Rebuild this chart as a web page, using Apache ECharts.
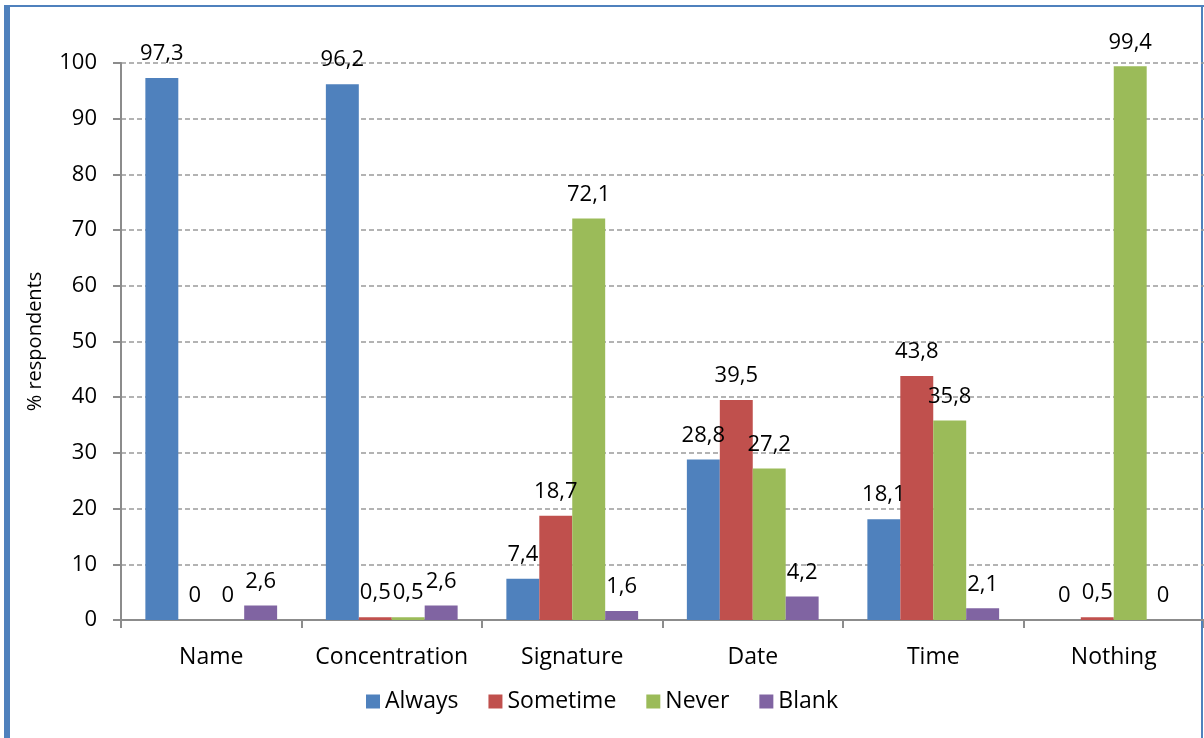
<!DOCTYPE html>
<html>
<head>
<meta charset="utf-8">
<script src="https://cdn.jsdelivr.net/npm/echarts@6/dist/echarts.min.js"></script>
<style>
  html, body { margin: 0; padding: 0; background: #fff; }
  #chart { width: 1204px; height: 738px; }
</style>
</head>
<body>
<div id="chart"></div>
<script>
const categories = ["Name", "Concentration", "Signature", "Date", "Time", "Nothing"];
const always = [97.3, 96.2, 7.4, 28.8, 18.1, 0];
const sometime = [0, 0.5, 18.7, 39.5, 43.8, 0.5];
const never = [0, 0.5, 72.1, 27.2, 35.8, 99.4];
const blank = [2.6, 2.6, 1.6, 4.2, 2.1, 0];

const font = "'Open Sans', sans-serif";
const commaLabel = (p) => String(p.value).replace(".", ",");

function barSeries(name, data, color) {
  return {
    name,
    type: "bar",
    data,
    barGap: "0%",
    barCategoryGap: "27%",
    itemStyle: { color },
    label: {
      show: true,
      position: "top",
      distance: 13,
      color: "#000",
      fontFamily: font,
      fontSize: 22,
      formatter: commaLabel
    }
  };
}

const chart = echarts.init(document.getElementById("chart"));
chart.setOption({
  animation: false,
  textStyle: { fontFamily: font },
  graphic: [
    { type: "rect", shape: { x: 4, y: 5, width: 6, height: 733 }, style: { fill: "#4f81bd" } },
    { type: "rect", shape: { x: 4, y: 5, width: 1200, height: 2 }, style: { fill: "#4f81bd" } },
    { type: "rect", shape: { x: 1201, y: 5, width: 2, height: 733 }, style: { fill: "#4f81bd" } }
  ],
  grid: { left: 121, right: 0, top: 63, bottom: 118 },
  legend: {
    bottom: 20,
    left: "center",
    itemWidth: 14,
    itemHeight: 14,
    itemGap: 30,
    icon: "rect",
    textStyle: { fontSize: 23, color: "#000", fontFamily: font }
  },
  xAxis: {
    type: "category",
    data: categories,
    axisLine: { lineStyle: { color: "#8c8c8c", width: 2 } },
    axisTick: { show: true, length: 8, lineStyle: { color: "#8c8c8c", width: 2 } },
    axisLabel: { color: "#000", fontSize: 23, margin: 26, interval: 0, fontFamily: font }
  },
  yAxis: {
    type: "value",
    min: 0,
    max: 100,
    interval: 10,
    name: "% respondents",
    nameLocation: "middle",
    nameGap: 76,
    nameTextStyle: { color: "#000", fontSize: 20, fontFamily: font },
    axisLine: { show: true, lineStyle: { color: "#8c8c8c", width: 2 } },
    axisTick: { show: true, length: 8, lineStyle: { color: "#8c8c8c", width: 2 } },
    axisLabel: { color: "#000", fontSize: 22, margin: 24, fontFamily: font },
    splitLine: { lineStyle: { color: "#9a9a9a", type: [5, 3], width: 1.5 } }
  },
  series: [
    barSeries("Always", always, "#4f81bd"),
    barSeries("Sometime", sometime, "#c0504d"),
    barSeries("Never", never, "#9bbb59"),
    barSeries("Blank", blank, "#8064a2")
  ]
});
</script>
</body>
</html>
